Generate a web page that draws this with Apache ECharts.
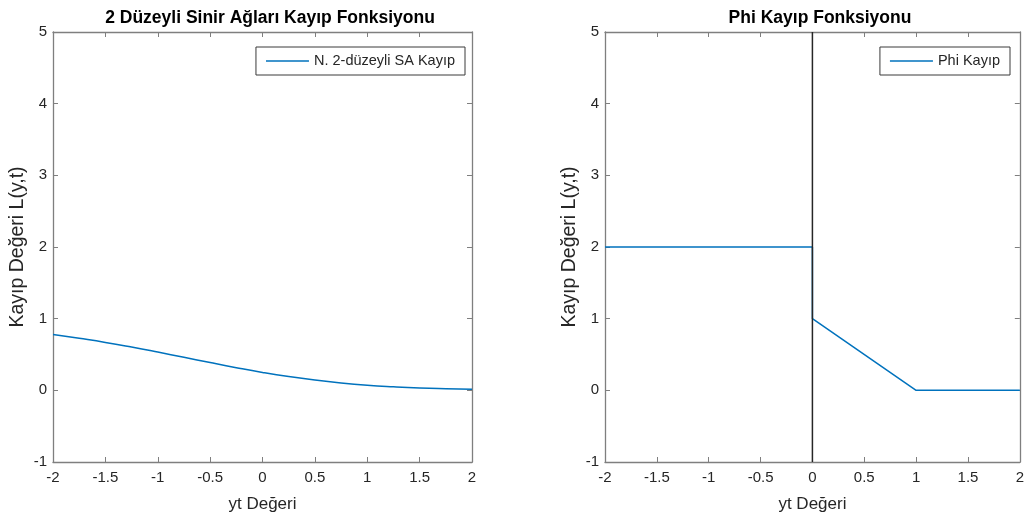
<!DOCTYPE html>
<html>
<head>
<meta charset="utf-8">
<script src="https://cdn.jsdelivr.net/npm/echarts@6/dist/echarts.min.js"></script>
<style>
  html, body { margin: 0; padding: 0; background: #fff; }
  #chart { width: 1027px; height: 518px; }
</style>
</head>
<body>
<div id="chart"></div>
<script>
// Left panel: 2-level neural network loss sampled along yt
const ytValues = [-2, -1.75, -1.5, -1.25, -1, -0.75, -0.5, -0.25, 0, 0.25, 0.5, 0.75, 1, 1.25, 1.5, 1.75, 2];
const saLoss = [0.78, 0.726, 0.669, 0.604, 0.534, 0.461, 0.387, 0.316, 0.25, 0.192, 0.143, 0.103, 0.072, 0.05, 0.033, 0.022, 0.014];

// Right panel: Phi loss breakpoints
const phiX = [-2, 0, 0, 1, 2];
const phiY = [2, 2, 1, 0, 0];

// Vertical reference line at yt = 0
const refX = [0, 0];
const refY = [-1, 5];

const titles = ['2 Düzeyli Sinir Ağları Kayıp Fonksiyonu', 'Phi Kayıp Fonksiyonu'];
const legendNames = ['N. 2-düzeyli SA Kayıp', 'Phi Kayıp'];
const xName = 'yt Değeri';
const yName = 'Kayıp Değeri L(y,t)';

const FONT = 'Liberation Sans, Arial, Helvetica, sans-serif';
const AXIS_COLOR = '#7f7f7f';
const TEXT_COLOR = '#262626';
const LINE_COLOR = '#0072BD';

const grids = [
  { left: 53, top: 32, width: 419, height: 433 },
  { left: 605, top: 32, width: 418, height: 433 }
];

function zip(xs, ys) { return xs.map((x, i) => [x, ys[i]]); }

const xAxes = [];
const yAxes = [];
grids.forEach((g, i) => {
  // bottom axis with labels
  xAxes.push({
    type: 'value', gridIndex: i, position: 'bottom', min: -2, max: 2, interval: 0.5,
    name: xName, nameLocation: 'middle', nameGap: 34,
    nameTextStyle: { fontFamily: FONT, fontSize: 17, color: TEXT_COLOR },
    axisLine: { show: true, onZero: false, lineStyle: { color: AXIS_COLOR, width: 1.3 } },
    axisTick: { show: true, inside: true, length: 5, lineStyle: { color: AXIS_COLOR } },
    axisLabel: { fontFamily: FONT, fontSize: 15, color: TEXT_COLOR, margin: 8 },
    splitLine: { show: false }
  });
  // top axis: box edge with ticks only
  xAxes.push({
    type: 'value', gridIndex: i, position: 'top', min: -2, max: 2, interval: 0.5,
    axisLine: { show: true, onZero: false, lineStyle: { color: AXIS_COLOR, width: 1.3 } },
    axisTick: { show: true, inside: true, length: 5, lineStyle: { color: AXIS_COLOR } },
    axisLabel: { show: false },
    splitLine: { show: false }
  });
  // left axis with labels
  yAxes.push({
    type: 'value', gridIndex: i, position: 'left', min: -1, max: 5, interval: 1,
    name: yName, nameLocation: 'middle', nameGap: 25,
    nameTextStyle: { fontFamily: FONT, fontSize: 19.5, color: TEXT_COLOR },
    axisLine: { show: true, onZero: false, lineStyle: { color: AXIS_COLOR, width: 1.3 } },
    axisTick: { show: true, inside: true, length: 5, lineStyle: { color: AXIS_COLOR } },
    axisLabel: { fontFamily: FONT, fontSize: 15, color: TEXT_COLOR, margin: 6 },
    splitLine: { show: false }
  });
  // right axis: box edge with ticks only
  yAxes.push({
    type: 'value', gridIndex: i, position: 'right', min: -1, max: 5, interval: 1,
    axisLine: { show: true, onZero: false, lineStyle: { color: AXIS_COLOR, width: 1.3 } },
    axisTick: { show: true, inside: true, length: 5, lineStyle: { color: AXIS_COLOR } },
    axisLabel: { show: false },
    splitLine: { show: false }
  });
});

const legendBase = {
  orient: 'horizontal', top: 47,
  backgroundColor: '#fff', borderColor: '#3a3a3a', borderWidth: 1,
  padding: [6, 10, 6, 10], icon: 'rect', itemWidth: 43, itemHeight: 1.5, itemGap: 5,
  textStyle: { fontFamily: FONT, fontSize: 14.5, color: TEXT_COLOR, lineHeight: 16 },
  selectedMode: false
};

const option = {
  backgroundColor: '#ffffff',
  animation: false,
  title: [
    { text: titles[0], left: 265, top: 4, textAlign: 'center',
      textStyle: { fontFamily: FONT, fontSize: 17.5, fontWeight: 'bold', color: '#000' } },
    { text: titles[1], left: 815, top: 4, textAlign: 'center',
      textStyle: { fontFamily: FONT, fontSize: 17.5, fontWeight: 'bold', color: '#000' } }
  ],
  grid: grids,
  xAxis: xAxes,
  yAxis: yAxes,
  legend: [
    Object.assign({}, legendBase, { data: [legendNames[0]], right: 562 }),
    Object.assign({}, legendBase, { data: [legendNames[1]], right: 17 })
  ],
  series: [
    {
      name: legendNames[0], type: 'line', xAxisIndex: 0, yAxisIndex: 0,
      data: zip(ytValues, saLoss), smooth: true, symbol: 'none',
      lineStyle: { color: LINE_COLOR, width: 1.5 }, itemStyle: { color: LINE_COLOR }
    },
    {
      name: legendNames[1], type: 'line', xAxisIndex: 2, yAxisIndex: 2,
      data: zip(phiX, phiY), symbol: 'none',
      lineStyle: { color: LINE_COLOR, width: 1.5 }, itemStyle: { color: LINE_COLOR }
    },
    {
      name: 'ref', type: 'line', xAxisIndex: 2, yAxisIndex: 2,
      data: zip(refX, refY), symbol: 'none', silent: true,
      lineStyle: { color: '#262626', width: 1.5 }, itemStyle: { color: '#262626' }
    }
  ]
};

const chart = echarts.init(document.getElementById('chart'), null, { renderer: 'canvas' });
chart.setOption(option);
</script>
</body>
</html>
